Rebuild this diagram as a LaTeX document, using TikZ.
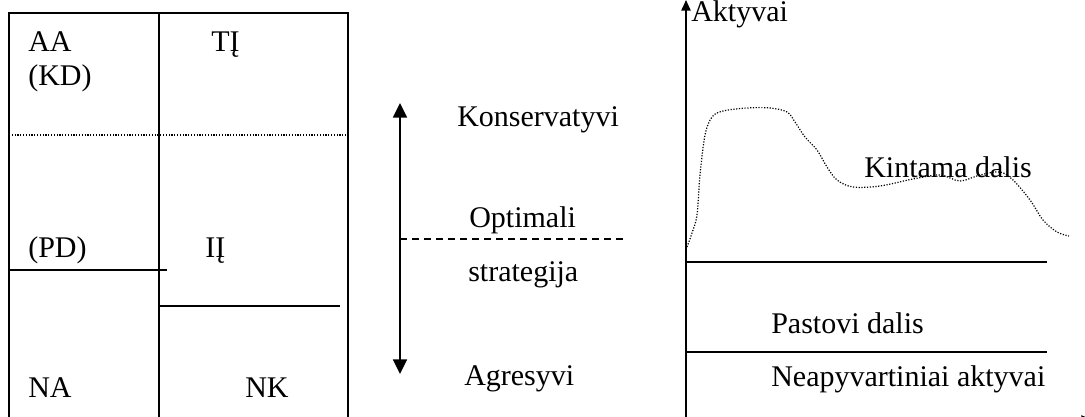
\documentclass[tikz,border=0pt]{standalone}
\usepackage{fontspec}
\setmainfont{Liberation Serif}
\usetikzlibrary{arrows.meta}
\begin{document}
\begin{tikzpicture}[x=0.75pt,y=-0.75pt,
  lbl/.style={anchor=base west,inner sep=0pt,font=\fontsize{22.5}{27}\selectfont},
  solid line/.style={line width=1.2pt},
  arr/.style={-{Triangle[length=11pt,width=10.5pt]}}]
\useasboundingbox (0,0) rectangle (1085,417);
% ---- left table ----
\draw[solid line] (9,420) -- (9,13) -- (348,13) -- (348,420);
\draw[solid line] (159,13) -- (159,420);
\draw[line width=0.9pt,dash pattern=on 0.9pt off 1.2pt] (9,135) -- (348,135);
\draw[solid line] (9,270) -- (167,270);
\draw[solid line] (159,306) -- (340,306);
\node[lbl] (aa) at (28,52) {AA};
\node[lbl] (kd) at (28,86) {(KD)};
\node[lbl] (ti) at (211,52) {TĮ};
\node[lbl] (pd) at (28,257) {(PD)};
\node[lbl] (ii) at (205,257) {IĮ};
\node[lbl] (na) at (28,397) {NA};
\node[lbl] (nk) at (245,397) {NK};
% ---- middle ----
\coordinate (atop) at (400,103);
\coordinate (abot) at (400,374);
\coordinate (amid) at (400,239);
\coordinate (dend) at (627,239);
\draw[solid line,arr] (amid) -- (atop);
\draw[solid line,arr] (amid) -- (abot);
\draw[line width=1pt,dash pattern=on 5.5pt off 3.5pt] (amid) -- (dend);
\node[lbl] (kons) at (457,127) {Konservatyvi};
\node[lbl] (opt) at (469,228) {Optimali};
\node[lbl] (str) at (468,281) {strategija};
\node[lbl] (agr) at (464,385) {Agresyvi};
% ---- right chart ----
\coordinate (org) at (686,420);
\coordinate (ytop) at (686,0);
\coordinate (xend) at (1092,420);
\draw[solid line,-{Triangle[length=8pt,width=7pt]}] (org) -- (ytop);
\draw[solid line,-{Triangle[length=8pt,width=7pt]}] (org) -- (xend);
\draw[solid line] (686,262) -- (1047,262);
\draw[solid line] (686,352) -- (1047,352);
\draw[line width=0.9pt,dash pattern=on 0.9pt off 1.2pt]
  plot[smooth,tension=0.55] coordinates {(687,247) (692,233) (697,215) (700,175) (705,135) (712,117) (723,111) (747,108) (770,108) (787,112) (795,122) (805,137) (817,150) (827,167) (837,180) (853,187) (880,186) (913,179) (940,175) (960,181) (980,175) (1000,172) (1013,180) (1030,200) (1043,220) (1057,232) (1069,236)};
\node[lbl] (akt) at (691,22) {Aktyvai};
\node[lbl] (kin) at (864,178) {Kintama dalis};
\node[lbl] (pas) at (771,333) {Pastovi dalis};
\node[lbl] (nea) at (771,386) {Neapyvartiniai aktyvai};
\end{tikzpicture}
\end{document}
